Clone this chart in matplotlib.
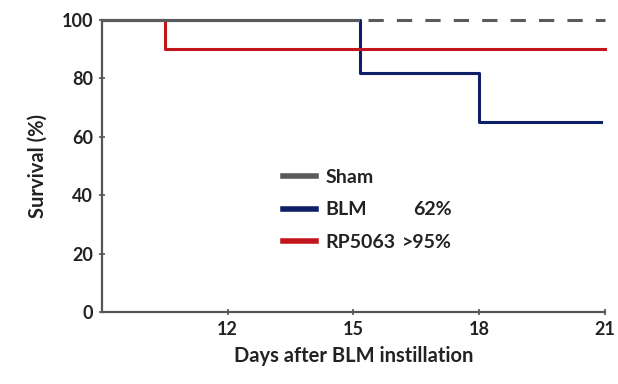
import numpy as np
import matplotlib
matplotlib.use("Agg")
import matplotlib.pyplot as plt
from matplotlib.lines import Line2D

# survival curves (step after each time point)
sham_days = [9, 15.1, 21]
sham_surv = [100, 100, 100]
blm_days = [9, 15.15, 18.0, 20.9]
blm_surv = [100, 82, 65, 65]
rp_days = [9, 10.5, 21]
rp_surv = [100, 90, 90]

groups = ["Sham", "BLM", "RP5063"]
pct_labels = ["", "62%", ">95%"]
xticks = [12, 15, 18, 21]
yticks = [0, 20, 40, 60, 80, 100]

c_sham = "#5a5a5a"
c_blm = "#0d1f66"
c_rp = "#c3161c"

plt.rcParams['font.family'] = ['Lato', 'DejaVu Sans']

fig = plt.figure(figsize=(6.18, 3.84), dpi=100)
ax = fig.add_axes([0.165, 0.1875, 0.814, 0.7605])

lw = 2.2
ax.step(blm_days, blm_surv, where='post', color=c_blm, lw=lw, clip_on=False, zorder=3)
ax.step(rp_days, rp_surv, where='post', color=c_rp, lw=lw, clip_on=False, zorder=3)
# sham: solid up to BLM drop, dashed afterwards
ax.plot(sham_days[:2], sham_surv[:2], color=c_sham, lw=lw, clip_on=False, zorder=4)
ax.plot([sham_days[1] + 0.25, sham_days[2]], sham_surv[1:], color=c_sham, lw=lw,
        dashes=(5, 4.3), clip_on=False, zorder=4)

ax.set_xlim(9, 21)
ax.set_ylim(0, 100)
ax.set_xticks(xticks)
ax.set_yticks(yticks)
for s in ['top', 'right']:
    ax.spines[s].set_visible(False)
for s in ['left', 'bottom']:
    ax.spines[s].set_color('#555555')
    ax.spines[s].set_linewidth(1.6)
ax.tick_params(direction='inout', length=5, width=1.2, color='#555555',
               labelsize=13, pad=4)
for t in ax.get_xticklabels() + ax.get_yticklabels():
    t.set_fontweight('bold')
    t.set_color('#222222')

ax.set_xlabel("Days after BLM instillation", fontsize=14.5, fontweight='bold',
              color='#222222', labelpad=6)
ax.set_ylabel("Survival (%)", fontsize=14.5, fontweight='bold', color='#222222',
              labelpad=10)

handles = [Line2D([0], [0], color=c, lw=4) for c in (c_sham, c_blm, c_rp)]
leg = ax.legend(handles, groups, loc='upper left', bbox_to_anchor=(0.36, 0.49),
                frameon=False, handlelength=1.7, handletextpad=0.5,
                labelspacing=0.8, borderpad=0, borderaxespad=0,
                prop={'weight': 'bold', 'size': 14})
for t in leg.get_texts():
    t.set_color('#222222')

# percentage column, right aligned
fig.canvas.draw()
for txt, p in zip(leg.get_texts(), pct_labels):
    if not p:
        continue
    bb = txt.get_window_extent()
    yc = (bb.y0 + bb.y1) / 2
    x_disp = 452
    xa, ya = ax.transAxes.inverted().transform((x_disp, yc))
    ax.text(xa, ya, p, transform=ax.transAxes, ha='right', va='center',
            fontsize=14, fontweight='bold', color='#222222')

fig.savefig("out.png", dpi=100)
